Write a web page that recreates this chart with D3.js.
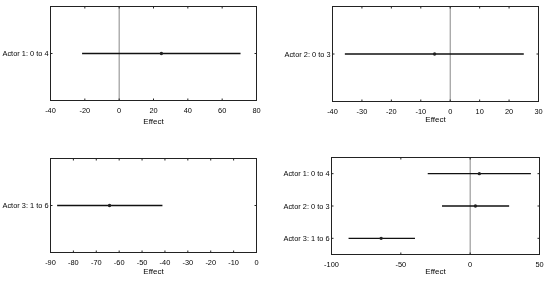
<!DOCTYPE html>
<html lang="en">
<head>
<meta charset="UTF-8">
<title>Effect plots</title>
<script src="https://d3js.org/d3.v7.min.js"></script>
<style>
  body { margin: 0; background: #fff; }
  svg { display: block; font-family: Arial, "Liberation Sans", sans-serif; will-change: transform; }
  .frame { fill: none; stroke: #222; stroke-width: 1; }
  .zero { stroke: #888; stroke-width: 1; }
  .ci { stroke: #111; stroke-width: 1.3; }
  .pt { fill: #222; }
  .tick-label { font-size: 7.4px; fill: #000; opacity: 0.99; }
  .axis-title { font-size: 8px; fill: #000; opacity: 0.99; }
</style>
</head>
<body>
<svg width="550" height="281"></svg>
<script>
// panel 1: Actor 1
const p1Labels = ["Actor 1: 0 to 4"];
const p1Est = [24.6];
const p1Lo = [-21.6];
const p1Hi = [70.7];
const p1Ticks = [-40, -20, 0, 20, 40, 60, 80];

// panel 2: Actor 2
const p2Labels = ["Actor 2: 0 to 3"];
const p2Est = [-5.3];
const p2Lo = [-35.8];
const p2Hi = [25];
const p2Ticks = [-40, -30, -20, -10, 0, 10, 20, 30];

// panel 3: Actor 3
const p3Labels = ["Actor 3: 1 to 6"];
const p3Est = [-64.2];
const p3Lo = [-87.1];
const p3Hi = [-41.1];
const p3Ticks = [-90, -80, -70, -60, -50, -40, -30, -20, -10, 0];

// panel 4: all three together
const p4Labels = ["Actor 1: 0 to 4", "Actor 2: 0 to 3", "Actor 3: 1 to 6"];
const p4Est = [6.6, 3.8, -64.2];
const p4Lo = [-30.6, -20.3, -87.7];
const p4Hi = [43.8, 28.1, -39.8];
const p4Ticks = [-100, -50, 0, 50];

const svg = d3.select("svg");

function drawPanel(box, labels, est, lo, hi, ticks) {
  const x = d3.scaleLinear()
    .domain([ticks[0], ticks[ticks.length - 1]])
    .range([box.x0, box.x1]);
  // rows spaced evenly, half a band of padding top and bottom
  const y = d3.scalePoint()
    .domain(labels)
    .range([box.y0, box.y1])
    .padding(0.5);

  const g = svg.append("g");

  // zero reference line
  if (x.domain()[0] < 0 && x.domain()[1] > 0) {
    g.append("line").attr("class", "zero")
      .attr("x1", x(0)).attr("x2", x(0))
      .attr("y1", box.y0).attr("y2", box.y1);
  }

  // inward ticks, bottom and top
  const tk = 2;
  ticks.forEach(t => {
    g.append("line").attr("stroke", "#222")
      .attr("x1", x(t)).attr("x2", x(t))
      .attr("y1", box.y1).attr("y2", box.y1 - tk);
    g.append("line").attr("stroke", "#222")
      .attr("x1", x(t)).attr("x2", x(t))
      .attr("y1", box.y0).attr("y2", box.y0 + tk);
    g.append("text").attr("class", "tick-label")
      .attr("x", x(t)).attr("y", box.y1 + 12)
      .attr("text-anchor", "middle")
      .text(t);
  });

  // y ticks, left and right
  labels.forEach(l => {
    g.append("line").attr("stroke", "#222")
      .attr("x1", box.x0).attr("x2", box.x0 + tk)
      .attr("y1", y(l)).attr("y2", y(l));
    g.append("line").attr("stroke", "#222")
      .attr("x1", box.x1).attr("x2", box.x1 - tk)
      .attr("y1", y(l)).attr("y2", y(l));
    g.append("text").attr("class", "tick-label")
      .attr("x", box.x0 - 2).attr("y", y(l))
      .attr("dy", "0.35em")
      .attr("text-anchor", "end")
      .text(l);
  });

  // intervals and estimates
  labels.forEach((l, i) => {
    g.append("line").attr("class", "ci")
      .attr("x1", x(lo[i])).attr("x2", x(hi[i]))
      .attr("y1", y(l)).attr("y2", y(l));
    g.append("circle").attr("class", "pt")
      .attr("cx", x(est[i])).attr("cy", y(l)).attr("r", 1.7);
  });

  g.append("rect").attr("class", "frame")
    .attr("x", box.x0).attr("y", box.y0)
    .attr("width", box.x1 - box.x0).attr("height", box.y1 - box.y0);

  g.append("text").attr("class", "axis-title")
    .attr("x", (box.x0 + box.x1) / 2).attr("y", box.y1 + box.titleDy)
    .attr("text-anchor", "middle")
    .text("Effect");
}

drawPanel({ x0: 50.5, x1: 256.5, y0: 6.5, y1: 100.5, titleDy: 23 }, p1Labels, p1Est, p1Lo, p1Hi, p1Ticks);
drawPanel({ x0: 332.5, x1: 538.5, y0: 6.5, y1: 101.5, titleDy: 20 }, p2Labels, p2Est, p2Lo, p2Hi, p2Ticks);
drawPanel({ x0: 50.5, x1: 256.5, y0: 158.5, y1: 252.5, titleDy: 21 }, p3Labels, p3Est, p3Lo, p3Hi, p3Ticks);
drawPanel({ x0: 331.5, x1: 539.5, y0: 157.5, y1: 254.5, titleDy: 19 }, p4Labels, p4Est, p4Lo, p4Hi, p4Ticks);
</script>
</body>
</html>
